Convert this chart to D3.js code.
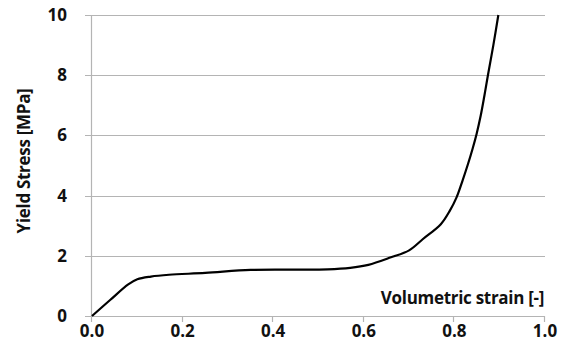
<!DOCTYPE html>
<html>
<head>
<meta charset="utf-8">
<script src="https://cdn.jsdelivr.net/npm/d3@7"></script>
<style>
  body { margin: 0; background: #fff; }
  text { font-family: "Open Sans", "Noto Sans", sans-serif; font-weight: bold; fill: #111; }
</style>
</head>
<body>
<div id="chart"></div>
<script>
  // values
  var strain = [0.0, 0.04, 0.08, 0.10, 0.13, 0.17, 0.25, 0.35, 0.45, 0.52, 0.57, 0.61, 0.66, 0.70, 0.73, 0.77, 0.79, 0.805, 0.818, 0.83, 0.84, 0.849, 0.858, 0.866, 0.874, 0.886, 0.897];
  var stress = [0.0, 0.53, 1.05, 1.22, 1.31, 1.37, 1.43, 1.53, 1.54, 1.55, 1.60, 1.70, 1.95, 2.18, 2.55, 3.05, 3.5, 3.95, 4.5, 5.05, 5.55, 6.05, 6.65, 7.3, 8.0, 9.0, 10.0];
  var xTicks = [0, 0.2, 0.4, 0.6, 0.8, 1.0];
  var yTicks = [0, 2, 4, 6, 8, 10];

  var W = 566, H = 354;
  var svg = d3.select("#chart")
    .append("svg")
    .attr("width", W)
    .attr("height", H);

  var x = d3.scaleLinear().domain([0, 1]).range([92, 545]);
  var y = d3.scaleLinear().domain([0, 10]).range([316, 15]);

  // horizontal gridlines (with tick stubs left of axis)
  svg.append("g")
    .selectAll("line")
    .data(yTicks)
    .enter()
    .append("line")
    .attr("x1", 85)
    .attr("x2", x(1))
    .attr("y1", function(d){ return Math.round(y(d)) + 0.5; })
    .attr("y2", function(d){ return Math.round(y(d)) + 0.5; })
    .style("stroke", "#b4b4b4")
    .style("stroke-width", 1.2);

  // y axis line
  svg.append("line")
    .attr("x1", x(0) - 0.5).attr("x2", x(0) - 0.5)
    .attr("y1", y(10)).attr("y2", y(0))
    .style("stroke", "#b4b4b4")
    .style("stroke-width", 1.2);

  // x axis tick marks
  svg.append("g")
    .selectAll("line")
    .data(xTicks)
    .enter()
    .append("line")
    .attr("x1", function(d){ return Math.round(x(d)) - 0.5; })
    .attr("x2", function(d){ return Math.round(x(d)) - 0.5; })
    .attr("y1", y(0))
    .attr("y2", y(0) + 6)
    .style("stroke", "#b4b4b4")
    .style("stroke-width", 1.2);

  // y tick labels
  svg.append("g")
    .selectAll("text")
    .data(yTicks)
    .enter()
    .append("text")
    .attr("x", 67)
    .attr("y", function(d){ return y(d); })
    .attr("dy", "0.35em")
    .attr("text-anchor", "end")
    .style("font-size", "17px")
    .text(function(d){ return d; });

  // x tick labels
  svg.append("g")
    .selectAll("text")
    .data(xTicks)
    .enter()
    .append("text")
    .attr("x", function(d){ return x(d); })
    .attr("y", 337)
    .attr("text-anchor", "middle")
    .style("font-size", "17px")
    .text(function(d){ return d3.format(".1f")(d); });

  // axis titles
  svg.append("text")
    .attr("x", 544)
    .attr("y", 304)
    .attr("text-anchor", "end")
    .style("font-size", "17px")
    .style("letter-spacing", "-0.3px")
    .text("Volumetric strain [-]");

  svg.append("text")
    .attr("transform", "translate(30,161) rotate(-90)")
    .attr("text-anchor", "middle")
    .style("font-size", "17px")
    .style("letter-spacing", "-0.3px")
    .text("Yield Stress [MPa]");

  // curve
  var pts = strain.map(function(s, i){ return [s, stress[i]]; });
  var line = d3.line()
    .x(function(d){ return x(d[0]); })
    .y(function(d){ return y(d[1]); })
    .curve(d3.curveCatmullRom.alpha(0.5));

  svg.append("path")
    .datum(pts)
    .attr("d", line)
    .style("fill", "none")
    .style("stroke", "#000")
    .style("stroke-width", 2.2);
</script>
</body>
</html>
